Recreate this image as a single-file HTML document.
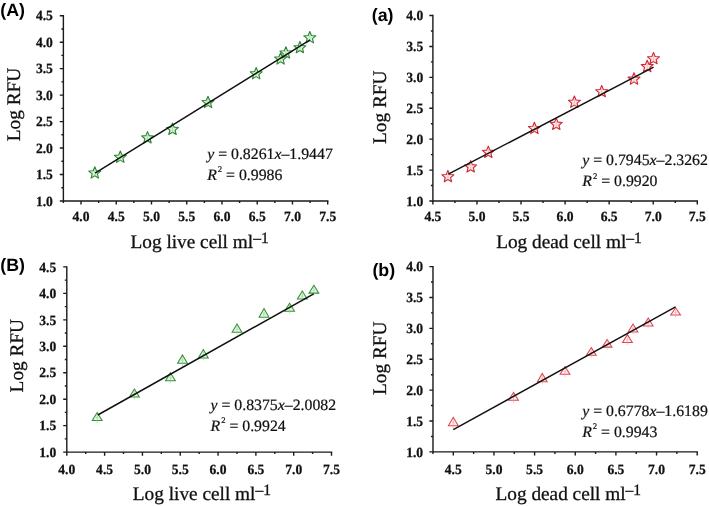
<!DOCTYPE html>
<html><head><meta charset="utf-8"><style>
html,body{margin:0;padding:0;background:#fff;width:709px;height:506px;overflow:hidden}
svg{display:block;text-rendering:geometricPrecision;will-change:transform}
.tl{font-family:"Liberation Serif", serif;font-weight:bold;font-size:14px;fill:#111;stroke:#111;stroke-width:0.25px}
.al{font-family:"Liberation Serif", serif;font-size:19.3px;fill:#111;stroke:#111;stroke-width:0.3px}
.al .sup{font-size:15.5px}
.yl{font-family:"Liberation Serif", serif;font-size:19.3px;fill:#111;stroke:#111;stroke-width:0.3px}
.eq{font-family:"Liberation Serif", serif;font-size:15.8px;fill:#111;stroke:#111;stroke-width:0.22px}
.pl{font-family:"Liberation Sans", sans-serif;font-weight:bold;font-size:17.8px;fill:#000}
</style></head><body>
<svg width="709" height="506" viewBox="0 0 709 506">
<rect width="709" height="506" fill="#fff"/>
<g><path d="M63.38 15.71 V201 H327.71" fill="none" stroke="#1a1a1a" stroke-width="1.4" stroke-linecap="square"/>
<path d="M59.78 201 H63.38 M61.38 187.76 H63.38 M59.78 174.53 H63.38 M61.38 161.3 H63.38 M59.78 148.06 H63.38 M61.38 134.82 H63.38 M59.78 121.59 H63.38 M61.38 108.36 H63.38 M59.78 95.12 H63.38 M61.38 81.89 H63.38 M59.78 68.65 H63.38 M61.38 55.42 H63.38 M59.78 42.18 H63.38 M61.38 28.94 H63.38 M59.78 15.71 H63.38 M63.38 201 V203 M81 201 V204.6 M98.62 201 V203 M116.25 201 V204.6 M133.87 201 V203 M151.49 201 V204.6 M169.11 201 V203 M186.73 201 V204.6 M204.36 201 V203 M221.98 201 V204.6 M239.6 201 V203 M257.23 201 V204.6 M274.85 201 V203 M292.47 201 V204.6 M310.09 201 V203 M327.71 201 V204.6" fill="none" stroke="#1a1a1a" stroke-width="1.4"/>
<text transform="translate(52.9,205.7) scale(0.97,1)" class="tl" text-anchor="end">1.0</text>
<text transform="translate(52.9,179.23) scale(0.97,1)" class="tl" text-anchor="end">1.5</text>
<text transform="translate(52.9,152.76) scale(0.97,1)" class="tl" text-anchor="end">2.0</text>
<text transform="translate(52.9,126.29) scale(0.97,1)" class="tl" text-anchor="end">2.5</text>
<text transform="translate(52.9,99.82) scale(0.97,1)" class="tl" text-anchor="end">3.0</text>
<text transform="translate(52.9,73.35) scale(0.97,1)" class="tl" text-anchor="end">3.5</text>
<text transform="translate(52.9,46.88) scale(0.97,1)" class="tl" text-anchor="end">4.0</text>
<text transform="translate(52.9,20.41) scale(0.97,1)" class="tl" text-anchor="end">4.5</text>
<text transform="translate(81,221) scale(0.97,1)" class="tl" text-anchor="middle">4.0</text>
<text transform="translate(116.25,221) scale(0.97,1)" class="tl" text-anchor="middle">4.5</text>
<text transform="translate(151.49,221) scale(0.97,1)" class="tl" text-anchor="middle">5.0</text>
<text transform="translate(186.73,221) scale(0.97,1)" class="tl" text-anchor="middle">5.5</text>
<text transform="translate(221.98,221) scale(0.97,1)" class="tl" text-anchor="middle">6.0</text>
<text transform="translate(257.23,221) scale(0.97,1)" class="tl" text-anchor="middle">6.5</text>
<text transform="translate(292.47,221) scale(0.97,1)" class="tl" text-anchor="middle">7.0</text>
<text transform="translate(327.71,221) scale(0.97,1)" class="tl" text-anchor="middle">7.5</text>
<text x="130.5" y="248" class="al">Log live cell ml<tspan class="sup" dy="-5.4">–1</tspan></text>
<text transform="translate(19.8,141.2) rotate(-90)" class="yl">Log RFU</text>
<text x="0.3" y="16.1" class="pl">(A)</text>
<path d="M94.8 166.7 L96.45 170.73 L100.79 171.05 L97.46 173.87 L98.5 178.1 L94.8 175.8 L91.1 178.1 L92.14 173.87 L88.81 171.05 L93.15 170.73 Z" fill="#d8f2d4" stroke="#2b8534" stroke-width="1.1" stroke-linejoin="round"/>
<path d="M94.8 169.6 V177.1" stroke="#8fd08f" stroke-width="0.7" opacity="0.7"/>
<path d="M120.3 151 L121.95 155.03 L126.29 155.35 L122.96 158.17 L124 162.4 L120.3 160.1 L116.6 162.4 L117.64 158.17 L114.31 155.35 L118.65 155.03 Z" fill="#d8f2d4" stroke="#2b8534" stroke-width="1.1" stroke-linejoin="round"/>
<path d="M120.3 153.9 V161.4" stroke="#8fd08f" stroke-width="0.7" opacity="0.7"/>
<path d="M147.5 131.6 L149.15 135.63 L153.49 135.95 L150.16 138.77 L151.2 143 L147.5 140.7 L143.8 143 L144.84 138.77 L141.51 135.95 L145.85 135.63 Z" fill="#d8f2d4" stroke="#2b8534" stroke-width="1.1" stroke-linejoin="round"/>
<path d="M147.5 134.5 V142" stroke="#8fd08f" stroke-width="0.7" opacity="0.7"/>
<path d="M172.5 123.1 L174.15 127.13 L178.49 127.45 L175.16 130.27 L176.2 134.5 L172.5 132.2 L168.8 134.5 L169.84 130.27 L166.51 127.45 L170.85 127.13 Z" fill="#d8f2d4" stroke="#2b8534" stroke-width="1.1" stroke-linejoin="round"/>
<path d="M172.5 126 V133.5" stroke="#8fd08f" stroke-width="0.7" opacity="0.7"/>
<path d="M208 96.2 L209.65 100.23 L213.99 100.55 L210.66 103.37 L211.7 107.6 L208 105.3 L204.3 107.6 L205.34 103.37 L202.01 100.55 L206.35 100.23 Z" fill="#d8f2d4" stroke="#2b8534" stroke-width="1.1" stroke-linejoin="round"/>
<path d="M208 99.1 V106.6" stroke="#8fd08f" stroke-width="0.7" opacity="0.7"/>
<path d="M256.2 67.5 L257.85 71.53 L262.19 71.85 L258.86 74.67 L259.9 78.9 L256.2 76.6 L252.5 78.9 L253.54 74.67 L250.21 71.85 L254.55 71.53 Z" fill="#d8f2d4" stroke="#2b8534" stroke-width="1.1" stroke-linejoin="round"/>
<path d="M256.2 70.4 V77.9" stroke="#8fd08f" stroke-width="0.7" opacity="0.7"/>
<path d="M280.6 52.7 L282.25 56.73 L286.59 57.05 L283.26 59.87 L284.3 64.1 L280.6 61.8 L276.9 64.1 L277.94 59.87 L274.61 57.05 L278.95 56.73 Z" fill="#d8f2d4" stroke="#2b8534" stroke-width="1.1" stroke-linejoin="round"/>
<path d="M280.6 55.6 V63.1" stroke="#8fd08f" stroke-width="0.7" opacity="0.7"/>
<path d="M285.9 46.7 L287.55 50.73 L291.89 51.05 L288.56 53.87 L289.6 58.1 L285.9 55.8 L282.2 58.1 L283.24 53.87 L279.91 51.05 L284.25 50.73 Z" fill="#d8f2d4" stroke="#2b8534" stroke-width="1.1" stroke-linejoin="round"/>
<path d="M285.9 49.6 V57.1" stroke="#8fd08f" stroke-width="0.7" opacity="0.7"/>
<path d="M299.9 41.4 L301.55 45.43 L305.89 45.75 L302.56 48.57 L303.6 52.8 L299.9 50.5 L296.2 52.8 L297.24 48.57 L293.91 45.75 L298.25 45.43 Z" fill="#d8f2d4" stroke="#2b8534" stroke-width="1.1" stroke-linejoin="round"/>
<path d="M299.9 44.3 V51.8" stroke="#8fd08f" stroke-width="0.7" opacity="0.7"/>
<path d="M309.8 31.5 L311.45 35.53 L315.79 35.85 L312.46 38.67 L313.5 42.9 L309.8 40.6 L306.1 42.9 L307.14 38.67 L303.81 35.85 L308.15 35.53 Z" fill="#d8f2d4" stroke="#2b8534" stroke-width="1.1" stroke-linejoin="round"/>
<path d="M309.8 34.4 V41.9" stroke="#8fd08f" stroke-width="0.7" opacity="0.7"/>
<path d="M95.1 173.2 L310.1 39.8" stroke="#111" stroke-width="1.5"/>
<text x="207.2" y="158.6" class="eq"><tspan font-style="italic">y</tspan> = 0.8261<tspan font-style="italic">x</tspan>–1.9447</text>
<text x="207.2" y="179.8" class="eq"><tspan font-style="italic">R</tspan><tspan font-size="8.6" dx="1" dy="-7.8">2</tspan><tspan dy="7.8"> = 0.9986</tspan></text></g>
<g><path d="M432.9 15.51 V201 H697.29" fill="none" stroke="#1a1a1a" stroke-width="1.4" stroke-linecap="square"/>
<path d="M429.3 201 H432.9 M430.9 185.54 H432.9 M429.3 170.09 H432.9 M430.9 154.63 H432.9 M429.3 139.17 H432.9 M430.9 123.71 H432.9 M429.3 108.25 H432.9 M430.9 92.8 H432.9 M429.3 77.34 H432.9 M430.9 61.88 H432.9 M429.3 46.43 H432.9 M430.9 30.97 H432.9 M429.3 15.51 H432.9 M432.9 201 V204.6 M454.93 201 V203 M476.96 201 V204.6 M499 201 V203 M521.03 201 V204.6 M543.06 201 V203 M565.1 201 V204.6 M587.13 201 V203 M609.16 201 V204.6 M631.19 201 V203 M653.22 201 V204.6 M675.26 201 V203 M697.29 201 V204.6" fill="none" stroke="#1a1a1a" stroke-width="1.4"/>
<text transform="translate(423.3,205.7) scale(0.97,1)" class="tl" text-anchor="end">1.0</text>
<text transform="translate(423.3,174.78) scale(0.97,1)" class="tl" text-anchor="end">1.5</text>
<text transform="translate(423.3,143.87) scale(0.97,1)" class="tl" text-anchor="end">2.0</text>
<text transform="translate(423.3,112.95) scale(0.97,1)" class="tl" text-anchor="end">2.5</text>
<text transform="translate(423.3,82.04) scale(0.97,1)" class="tl" text-anchor="end">3.0</text>
<text transform="translate(423.3,51.13) scale(0.97,1)" class="tl" text-anchor="end">3.5</text>
<text transform="translate(423.3,20.21) scale(0.97,1)" class="tl" text-anchor="end">4.0</text>
<text transform="translate(432.9,221) scale(0.97,1)" class="tl" text-anchor="middle">4.5</text>
<text transform="translate(476.96,221) scale(0.97,1)" class="tl" text-anchor="middle">5.0</text>
<text transform="translate(521.03,221) scale(0.97,1)" class="tl" text-anchor="middle">5.5</text>
<text transform="translate(565.1,221) scale(0.97,1)" class="tl" text-anchor="middle">6.0</text>
<text transform="translate(609.16,221) scale(0.97,1)" class="tl" text-anchor="middle">6.5</text>
<text transform="translate(653.22,221) scale(0.97,1)" class="tl" text-anchor="middle">7.0</text>
<text transform="translate(697.29,221) scale(0.97,1)" class="tl" text-anchor="middle">7.5</text>
<text x="496.2" y="248" class="al">Log dead cell ml<tspan class="sup" dy="-5.4">–1</tspan></text>
<text transform="translate(386.3,144) rotate(-90)" class="yl">Log RFU</text>
<text x="371.8" y="20.5" class="pl">(a)</text>
<path d="M447.9 170.4 L449.55 174.43 L453.89 174.75 L450.56 177.57 L451.6 181.8 L447.9 179.5 L444.2 181.8 L445.24 177.57 L441.91 174.75 L446.25 174.43 Z" fill="#fde6e6" stroke="#d02834" stroke-width="1.1" stroke-linejoin="round"/>
<path d="M447.9 173.3 V180.8" stroke="#f09a9a" stroke-width="0.7" opacity="0.7"/>
<path d="M470.7 160.6 L472.35 164.63 L476.69 164.95 L473.36 167.77 L474.4 172 L470.7 169.7 L467 172 L468.04 167.77 L464.71 164.95 L469.05 164.63 Z" fill="#fde6e6" stroke="#d02834" stroke-width="1.1" stroke-linejoin="round"/>
<path d="M470.7 163.5 V171" stroke="#f09a9a" stroke-width="0.7" opacity="0.7"/>
<path d="M488.3 146.1 L489.95 150.13 L494.29 150.45 L490.96 153.27 L492 157.5 L488.3 155.2 L484.6 157.5 L485.64 153.27 L482.31 150.45 L486.65 150.13 Z" fill="#fde6e6" stroke="#d02834" stroke-width="1.1" stroke-linejoin="round"/>
<path d="M488.3 149 V156.5" stroke="#f09a9a" stroke-width="0.7" opacity="0.7"/>
<path d="M534.4 122.2 L536.05 126.23 L540.39 126.55 L537.06 129.37 L538.1 133.6 L534.4 131.3 L530.7 133.6 L531.74 129.37 L528.41 126.55 L532.75 126.23 Z" fill="#fde6e6" stroke="#d02834" stroke-width="1.1" stroke-linejoin="round"/>
<path d="M534.4 125.1 V132.6" stroke="#f09a9a" stroke-width="0.7" opacity="0.7"/>
<path d="M556.3 118.1 L557.95 122.13 L562.29 122.45 L558.96 125.27 L560 129.5 L556.3 127.2 L552.6 129.5 L553.64 125.27 L550.31 122.45 L554.65 122.13 Z" fill="#fde6e6" stroke="#d02834" stroke-width="1.1" stroke-linejoin="round"/>
<path d="M556.3 121 V128.5" stroke="#f09a9a" stroke-width="0.7" opacity="0.7"/>
<path d="M574.4 96 L576.05 100.03 L580.39 100.35 L577.06 103.17 L578.1 107.4 L574.4 105.1 L570.7 107.4 L571.74 103.17 L568.41 100.35 L572.75 100.03 Z" fill="#fde6e6" stroke="#d02834" stroke-width="1.1" stroke-linejoin="round"/>
<path d="M574.4 98.9 V106.4" stroke="#f09a9a" stroke-width="0.7" opacity="0.7"/>
<path d="M601.7 85.4 L603.35 89.43 L607.69 89.75 L604.36 92.57 L605.4 96.8 L601.7 94.5 L598 96.8 L599.04 92.57 L595.71 89.75 L600.05 89.43 Z" fill="#fde6e6" stroke="#d02834" stroke-width="1.1" stroke-linejoin="round"/>
<path d="M601.7 88.3 V95.8" stroke="#f09a9a" stroke-width="0.7" opacity="0.7"/>
<path d="M634 72.8 L635.65 76.83 L639.99 77.15 L636.66 79.97 L637.7 84.2 L634 81.9 L630.3 84.2 L631.34 79.97 L628.01 77.15 L632.35 76.83 Z" fill="#fde6e6" stroke="#d02834" stroke-width="1.1" stroke-linejoin="round"/>
<path d="M634 75.7 V83.2" stroke="#f09a9a" stroke-width="0.7" opacity="0.7"/>
<path d="M647.2 60.3 L648.85 64.33 L653.19 64.65 L649.86 67.47 L650.9 71.7 L647.2 69.4 L643.5 71.7 L644.54 67.47 L641.21 64.65 L645.55 64.33 Z" fill="#fde6e6" stroke="#d02834" stroke-width="1.1" stroke-linejoin="round"/>
<path d="M647.2 63.2 V70.7" stroke="#f09a9a" stroke-width="0.7" opacity="0.7"/>
<path d="M653.5 52.4 L655.15 56.43 L659.49 56.75 L656.16 59.57 L657.2 63.8 L653.5 61.5 L649.8 63.8 L650.84 59.57 L647.51 56.75 L651.85 56.43 Z" fill="#fde6e6" stroke="#d02834" stroke-width="1.1" stroke-linejoin="round"/>
<path d="M653.5 55.3 V62.8" stroke="#f09a9a" stroke-width="0.7" opacity="0.7"/>
<path d="M448.3 174.2 L653.6 67.1" stroke="#111" stroke-width="1.5"/>
<text x="582.3" y="164.9" class="eq"><tspan font-style="italic">y</tspan> = 0.7945<tspan font-style="italic">x</tspan>–2.3262</text>
<text x="582.3" y="186.3" class="eq"><tspan font-style="italic">R</tspan><tspan font-size="8.6" dx="1" dy="-7.8">2</tspan><tspan dy="7.8"> = 0.9920</tspan></text></g>
<g><path d="M66.8 266.92 V452.1 H331.5" fill="none" stroke="#1a1a1a" stroke-width="1.4" stroke-linecap="square"/>
<path d="M63.2 452.1 H66.8 M64.8 438.87 H66.8 M63.2 425.65 H66.8 M64.8 412.42 H66.8 M63.2 399.19 H66.8 M64.8 385.96 H66.8 M63.2 372.74 H66.8 M64.8 359.51 H66.8 M63.2 346.28 H66.8 M64.8 333.05 H66.8 M63.2 319.83 H66.8 M64.8 306.6 H66.8 M63.2 293.37 H66.8 M64.8 280.14 H66.8 M63.2 266.92 H66.8 M66.8 452.1 V455.7 M85.71 452.1 V454.1 M104.61 452.1 V455.7 M123.52 452.1 V454.1 M142.43 452.1 V455.7 M161.34 452.1 V454.1 M180.25 452.1 V455.7 M199.15 452.1 V454.1 M218.06 452.1 V455.7 M236.97 452.1 V454.1 M255.88 452.1 V455.7 M274.78 452.1 V454.1 M293.69 452.1 V455.7 M312.6 452.1 V454.1 M331.5 452.1 V455.7" fill="none" stroke="#1a1a1a" stroke-width="1.4"/>
<text transform="translate(56.3,456.8) scale(0.97,1)" class="tl" text-anchor="end">1.0</text>
<text transform="translate(56.3,430.35) scale(0.97,1)" class="tl" text-anchor="end">1.5</text>
<text transform="translate(56.3,403.89) scale(0.97,1)" class="tl" text-anchor="end">2.0</text>
<text transform="translate(56.3,377.44) scale(0.97,1)" class="tl" text-anchor="end">2.5</text>
<text transform="translate(56.3,350.98) scale(0.97,1)" class="tl" text-anchor="end">3.0</text>
<text transform="translate(56.3,324.53) scale(0.97,1)" class="tl" text-anchor="end">3.5</text>
<text transform="translate(56.3,298.07) scale(0.97,1)" class="tl" text-anchor="end">4.0</text>
<text transform="translate(56.3,271.62) scale(0.97,1)" class="tl" text-anchor="end">4.5</text>
<text transform="translate(66.8,474) scale(0.97,1)" class="tl" text-anchor="middle">4.0</text>
<text transform="translate(104.61,474) scale(0.97,1)" class="tl" text-anchor="middle">4.5</text>
<text transform="translate(142.43,474) scale(0.97,1)" class="tl" text-anchor="middle">5.0</text>
<text transform="translate(180.25,474) scale(0.97,1)" class="tl" text-anchor="middle">5.5</text>
<text transform="translate(218.06,474) scale(0.97,1)" class="tl" text-anchor="middle">6.0</text>
<text transform="translate(255.88,474) scale(0.97,1)" class="tl" text-anchor="middle">6.5</text>
<text transform="translate(293.69,474) scale(0.97,1)" class="tl" text-anchor="middle">7.0</text>
<text transform="translate(331.5,474) scale(0.97,1)" class="tl" text-anchor="middle">7.5</text>
<text x="132.8" y="500.4" class="al">Log live cell ml<tspan class="sup" dy="-5.4">–1</tspan></text>
<text transform="translate(23.2,392.4) rotate(-90)" class="yl">Log RFU</text>
<text x="0.3" y="271.3" class="pl">(B)</text>
<path d="M97.2 412.4 L102.1 420.4 H92.3 Z" fill="#e4f6e0" stroke="#35903a" stroke-width="1.05" stroke-linejoin="miter"/>
<path d="M97.2 414.2 V422.9 M96 417.45 H98.4" stroke="#8fd08f" stroke-width="0.7" opacity="0.8"/>
<path d="M134.4 388.9 L139.3 396.9 H129.5 Z" fill="#e4f6e0" stroke="#35903a" stroke-width="1.05" stroke-linejoin="miter"/>
<path d="M134.4 390.7 V399.4 M133.2 393.95 H135.6" stroke="#8fd08f" stroke-width="0.7" opacity="0.8"/>
<path d="M170.4 372.7 L175.3 380.7 H165.5 Z" fill="#e4f6e0" stroke="#35903a" stroke-width="1.05" stroke-linejoin="miter"/>
<path d="M170.4 374.5 V383.2 M169.2 377.75 H171.6" stroke="#8fd08f" stroke-width="0.7" opacity="0.8"/>
<path d="M182.5 354.9 L187.4 363.3 H177.6 Z" fill="#e4f6e0" stroke="#35903a" stroke-width="1.05" stroke-linejoin="miter"/>
<path d="M182.5 356.7 V365.8 M181.3 360.15 H183.7" stroke="#8fd08f" stroke-width="0.7" opacity="0.8"/>
<path d="M203.3 349.6 L208.2 358 H198.4 Z" fill="#e4f6e0" stroke="#35903a" stroke-width="1.05" stroke-linejoin="miter"/>
<path d="M203.3 351.4 V360.5 M202.1 354.85 H204.5" stroke="#8fd08f" stroke-width="0.7" opacity="0.8"/>
<path d="M237 324 L241.9 332.3 H232.1 Z" fill="#e4f6e0" stroke="#35903a" stroke-width="1.05" stroke-linejoin="miter"/>
<path d="M237 325.8 V334.8 M235.8 329.2 H238.2" stroke="#8fd08f" stroke-width="0.7" opacity="0.8"/>
<path d="M264 308.6 L268.9 317.3 H259.1 Z" fill="#e4f6e0" stroke="#35903a" stroke-width="1.05" stroke-linejoin="miter"/>
<path d="M264 310.4 V319.8 M262.8 314 H265.2" stroke="#8fd08f" stroke-width="0.7" opacity="0.8"/>
<path d="M289.6 303.2 L294.5 311.3 H284.7 Z" fill="#e4f6e0" stroke="#35903a" stroke-width="1.05" stroke-linejoin="miter"/>
<path d="M289.6 305 V313.8 M288.4 308.3 H290.8" stroke="#8fd08f" stroke-width="0.7" opacity="0.8"/>
<path d="M302.3 291 L307.2 299 H297.4 Z" fill="#e4f6e0" stroke="#35903a" stroke-width="1.05" stroke-linejoin="miter"/>
<path d="M302.3 292.8 V301.5 M301.1 296.05 H303.5" stroke="#8fd08f" stroke-width="0.7" opacity="0.8"/>
<path d="M313.9 285.2 L318.8 293.1 H309 Z" fill="#e4f6e0" stroke="#35903a" stroke-width="1.05" stroke-linejoin="miter"/>
<path d="M313.9 287 V295.6 M312.7 290.2 H315.1" stroke="#8fd08f" stroke-width="0.7" opacity="0.8"/>
<path d="M97.8 415 L313.7 293.8" stroke="#111" stroke-width="1.5"/>
<text x="210.5" y="409.7" class="eq"><tspan font-style="italic">y</tspan> = 0.8375<tspan font-style="italic">x</tspan>–2.0082</text>
<text x="210.5" y="431" class="eq"><tspan font-style="italic">R</tspan><tspan font-size="8.6" dx="1" dy="-7.8">2</tspan><tspan dy="7.8"> = 0.9924</tspan></text></g>
<g><path d="M432.98 266.59 V451.9 H697.2" fill="none" stroke="#1a1a1a" stroke-width="1.4" stroke-linecap="square"/>
<path d="M429.38 451.9 H432.98 M430.98 436.46 H432.98 M429.38 421.01 H432.98 M430.98 405.57 H432.98 M429.38 390.13 H432.98 M430.98 374.69 H432.98 M429.38 359.25 H432.98 M430.98 343.8 H432.98 M429.38 328.36 H432.98 M430.98 312.92 H432.98 M429.38 297.47 H432.98 M430.98 282.03 H432.98 M429.38 266.59 H432.98 M432.98 451.9 V453.9 M453.3 451.9 V455.5 M473.62 451.9 V453.9 M493.95 451.9 V455.5 M514.27 451.9 V453.9 M534.6 451.9 V455.5 M554.92 451.9 V453.9 M575.25 451.9 V455.5 M595.58 451.9 V453.9 M615.9 451.9 V455.5 M636.23 451.9 V453.9 M656.55 451.9 V455.5 M676.88 451.9 V453.9 M697.2 451.9 V455.5" fill="none" stroke="#1a1a1a" stroke-width="1.4"/>
<text transform="translate(423.1,456.6) scale(0.97,1)" class="tl" text-anchor="end">1.0</text>
<text transform="translate(423.1,425.71) scale(0.97,1)" class="tl" text-anchor="end">1.5</text>
<text transform="translate(423.1,394.83) scale(0.97,1)" class="tl" text-anchor="end">2.0</text>
<text transform="translate(423.1,363.94) scale(0.97,1)" class="tl" text-anchor="end">2.5</text>
<text transform="translate(423.1,333.06) scale(0.97,1)" class="tl" text-anchor="end">3.0</text>
<text transform="translate(423.1,302.17) scale(0.97,1)" class="tl" text-anchor="end">3.5</text>
<text transform="translate(423.1,271.29) scale(0.97,1)" class="tl" text-anchor="end">4.0</text>
<text transform="translate(453.3,474) scale(0.97,1)" class="tl" text-anchor="middle">4.5</text>
<text transform="translate(493.95,474) scale(0.97,1)" class="tl" text-anchor="middle">5.0</text>
<text transform="translate(534.6,474) scale(0.97,1)" class="tl" text-anchor="middle">5.5</text>
<text transform="translate(575.25,474) scale(0.97,1)" class="tl" text-anchor="middle">6.0</text>
<text transform="translate(615.9,474) scale(0.97,1)" class="tl" text-anchor="middle">6.5</text>
<text transform="translate(656.55,474) scale(0.97,1)" class="tl" text-anchor="middle">7.0</text>
<text transform="translate(697.2,474) scale(0.97,1)" class="tl" text-anchor="middle">7.5</text>
<text x="495.5" y="500.4" class="al">Log dead cell ml<tspan class="sup" dy="-5.4">–1</tspan></text>
<text transform="translate(386.2,395) rotate(-90)" class="yl">Log RFU</text>
<text x="372.4" y="275.8" class="pl">(b)</text>
<path d="M453.3 417.3 L458.2 425.7 H448.4 Z" fill="#fff0f0" stroke="#de4654" stroke-width="1.05" stroke-linejoin="miter"/>
<path d="M453.3 419.1 V428.2 M452.1 422.55 H454.5" stroke="#f09a9a" stroke-width="0.7" opacity="0.8"/>
<path d="M513.5 392.4 L518.4 400.2 H508.6 Z" fill="#fff0f0" stroke="#de4654" stroke-width="1.05" stroke-linejoin="miter"/>
<path d="M513.5 394.2 V402.7 M512.3 397.35 H514.7" stroke="#f09a9a" stroke-width="0.7" opacity="0.8"/>
<path d="M542.3 373.4 L547.2 381.8 H537.4 Z" fill="#fff0f0" stroke="#de4654" stroke-width="1.05" stroke-linejoin="miter"/>
<path d="M542.3 375.2 V384.3 M541.1 378.65 H543.5" stroke="#f09a9a" stroke-width="0.7" opacity="0.8"/>
<path d="M565 366.5 L569.9 374.3 H560.1 Z" fill="#fff0f0" stroke="#de4654" stroke-width="1.05" stroke-linejoin="miter"/>
<path d="M565 368.3 V376.8 M563.8 371.45 H566.2" stroke="#f09a9a" stroke-width="0.7" opacity="0.8"/>
<path d="M591.3 347.6 L596.2 355.2 H586.4 Z" fill="#fff0f0" stroke="#de4654" stroke-width="1.05" stroke-linejoin="miter"/>
<path d="M591.3 349.4 V357.7 M590.1 352.45 H592.5" stroke="#f09a9a" stroke-width="0.7" opacity="0.8"/>
<path d="M607.1 339.5 L612 347.1 H602.2 Z" fill="#fff0f0" stroke="#de4654" stroke-width="1.05" stroke-linejoin="miter"/>
<path d="M607.1 341.3 V349.6 M605.9 344.35 H608.3" stroke="#f09a9a" stroke-width="0.7" opacity="0.8"/>
<path d="M627.4 334.6 L632.3 342.5 H622.5 Z" fill="#fff0f0" stroke="#de4654" stroke-width="1.05" stroke-linejoin="miter"/>
<path d="M627.4 336.4 V345 M626.2 339.6 H628.6" stroke="#f09a9a" stroke-width="0.7" opacity="0.8"/>
<path d="M633 323.9 L637.9 331.9 H628.1 Z" fill="#fff0f0" stroke="#de4654" stroke-width="1.05" stroke-linejoin="miter"/>
<path d="M633 325.7 V334.4 M631.8 328.95 H634.2" stroke="#f09a9a" stroke-width="0.7" opacity="0.8"/>
<path d="M648.2 318 L653.1 325.9 H643.3 Z" fill="#fff0f0" stroke="#de4654" stroke-width="1.05" stroke-linejoin="miter"/>
<path d="M648.2 319.8 V328.4 M647 323 H649.4" stroke="#f09a9a" stroke-width="0.7" opacity="0.8"/>
<path d="M675.6 307.8 L680.5 314.9 H670.7 Z" fill="#fff0f0" stroke="#de4654" stroke-width="1.05" stroke-linejoin="miter"/>
<path d="M675.6 309.6 V317.4 M674.4 312.4 H676.8" stroke="#f09a9a" stroke-width="0.7" opacity="0.8"/>
<path d="M453.3 429.6 L675.6 306.8" stroke="#111" stroke-width="1.5"/>
<text x="582.2" y="415.9" class="eq"><tspan font-style="italic">y</tspan> = 0.6778<tspan font-style="italic">x</tspan>–1.6189</text>
<text x="582.2" y="437" class="eq"><tspan font-style="italic">R</tspan><tspan font-size="8.6" dx="1" dy="-7.8">2</tspan><tspan dy="7.8"> = 0.9943</tspan></text></g>
</svg>
</body></html>
